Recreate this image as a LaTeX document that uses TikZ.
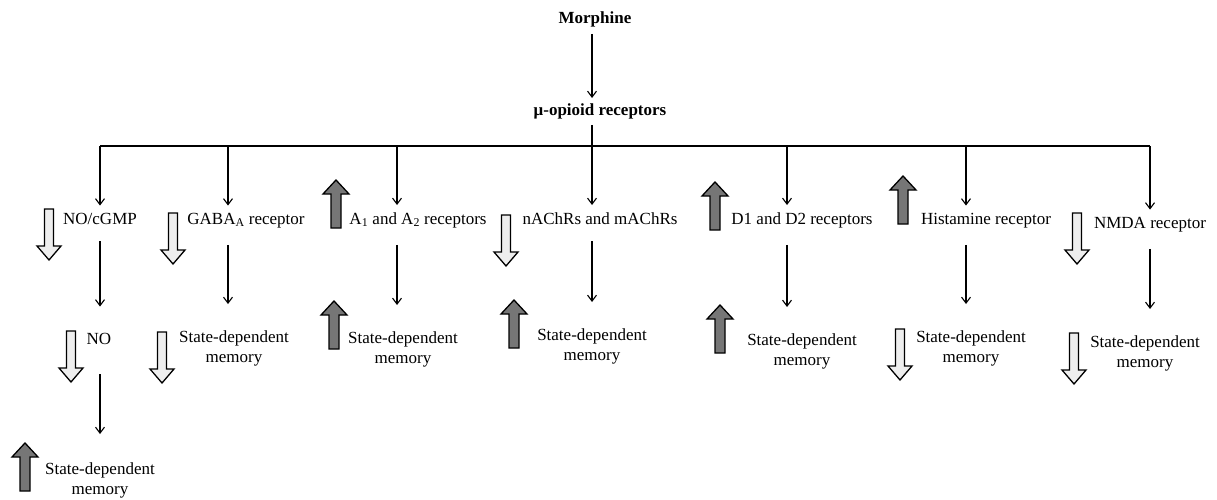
\documentclass[tikz,border=0pt]{standalone}
\usepackage{fontspec}
\setmainfont{Liberation Serif}
\usetikzlibrary{arrows.meta}
\definecolor{darkfill}{RGB}{118,118,118}
\definecolor{lightfill}{RGB}{238,238,238}
\tikzset{
  lbl/.style={inner sep=0pt, anchor=base, font=\fontsize{17}{20}\selectfont, align=center},
  bold/.style={lbl, font=\fontsize{17}{20}\selectfont\bfseries},
  arr/.style={line width=1.1pt, -{Straight Barb[length=6pt,width=9pt,line width=1.1pt]}},
  blk/.style={line width=1.3pt, line join=miter},
  dnarrow/.pic={\draw[blk, fill=lightfill] (-4.5,0) -- (-4.5,37) -- (-12,37) -- (0,51) -- (12,37) -- (4.5,37) -- (4.5,0) -- cycle;},
  uparrow/.pic={\draw[blk, fill=darkfill] (-5,48) -- (-5,14) -- (-13,14) -- (0,0) -- (13,14) -- (5,14) -- (5,48) -- cycle;}
}
\begin{document}
\begin{tikzpicture}[x=1pt, y=-1pt]
\useasboundingbox (0,0) rectangle (1217,500);
% top
\node[bold] (morph) at (595,24) {Morphine};
\node[bold] (mu) at (600,116) {μ-opioid receptors};
\draw[arr, shorten <=6pt, shorten >=6pt] (592,0 |- morph.south) -- (592,0 |- mu.north);
% bar
\coordinate (b1) at (100,146);
\coordinate (b2) at (228,146);
\coordinate (b3) at (397,146);
\coordinate (b4) at (592,146);
\coordinate (b5) at (787,146);
\coordinate (b6) at (966,146);
\coordinate (b7) at (1150,146);
\coordinate (bc) at (592,146);
\draw[line width=1.1pt] (b1) -- (b7);
\draw[line width=1.1pt] (bc |- mu.south) ++(0,5) -- (bc);
% row 1
\node[lbl] (n1) at (100,224) {NO/cGMP};
\node[lbl] (n2) at (246,224) {GABA\textsubscript{A} receptor};
\node[lbl] (n3) at (418,224) {A\textsubscript{1} and A\textsubscript{2} receptors};
\node[lbl] (n4) at (600,224) {nAChRs and mAChRs};
\node[lbl] (n5) at (802,224) {D1 and D2 receptors};
\node[lbl] (n6) at (986,224) {Histamine receptor};
\node[lbl] (n7) at (1150,228) {NMDA receptor};
\foreach \i in {1,...,7} {
  \draw[arr, shorten >=7pt] (b\i) -- (b\i |- n\i.north);
}
% row 2
\node[lbl] (m1) at (99,344) {NO};
\node[lbl] (m2) at (234,362) {State-dependent\\memory};
\node[lbl] (m3) at (403,363) {State-dependent\\memory};
\node[lbl] (m4) at (592,360) {State-dependent\\memory};
\node[lbl] (m5) at (802,365) {State-dependent\\memory};
\node[lbl] (m6) at (971,362) {State-dependent\\memory};
\node[lbl] (m7) at (1145,367) {State-dependent\\memory};
\foreach \i in {1,...,7} {
  \draw[arr, shorten <=17pt, shorten >=26pt] (b\i |- n\i.south) -- (b\i |- m\i.north);
}
% row 3
\node[lbl] (s1) at (100,494) {State-dependent\\memory};
\draw[arr, shorten <=30pt, shorten >=28pt] (b1 |- m1.south) -- (b1 |- s1.north);
% block arrows
\pic at (49,209) {dnarrow};
\pic at (173,213) {dnarrow};
\pic at (71,331) {dnarrow};
\pic at (162,332) {dnarrow};
\pic at (506,215) {dnarrow};
\pic at (900,329) {dnarrow};
\pic at (1077,213) {dnarrow};
\pic at (1074,333) {dnarrow};
\pic at (25,443) {uparrow};
\pic at (336,180) {uparrow};
\pic at (334,301) {uparrow};
\pic at (514,300) {uparrow};
\pic at (715,182) {uparrow};
\pic at (720,305) {uparrow};
\pic at (903,176) {uparrow};
\end{tikzpicture}
\end{document}
